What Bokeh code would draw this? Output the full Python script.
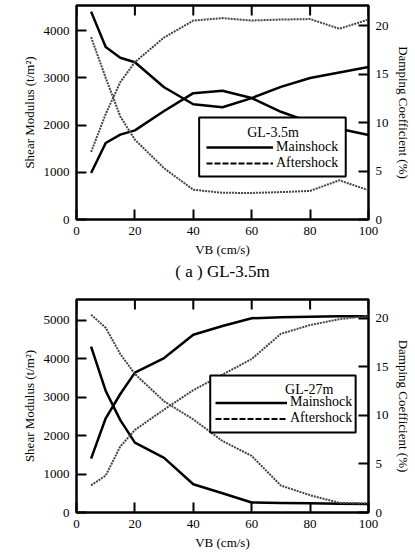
from bokeh.plotting import figure
from bokeh.models import (Range1d, LinearAxis, Legend, LegendItem, Label,
                          FixedTicker, BoxAnnotation)
from bokeh.layouts import column
from bokeh.embed import file_html
from bokeh.resources import INLINE

# ---------------- data ----------------
vb = [5, 10, 15, 20, 30, 40, 50, 60, 70, 80, 90, 100]

# (a) GL-3.5m
g35_main = [4400, 3650, 3425, 3330, 2800, 2440, 2375, 2570, 2280, 2060, 1920, 1790]
h35_main = [4.8, 7.9, 8.76, 9.2, 11.2, 13.05, 13.3, 12.54, 13.7, 14.62, 15.19, 15.75]
g35_after = [3860, 3000, 2180, 1690, 1085, 630, 565, 562, 580, 605, 830, 620]
h35_after = [6.97, 10.89, 14.19, 16.25, 18.8, 20.55, 20.8, 20.55, 20.65, 20.7, 19.7, 20.65]

# GL-27m
g27_main = [4310, 3160, 2400, 1815, 1420, 735, 500, 260, 250, 240, 230, 220]
h27_main = [5.55, 9.7, 12.2, 14.4, 15.9, 18.3, 19.2, 20.0, 20.1, 20.15, 20.2, 20.2]
g27_after = [5140, 4800, 4120, 3600, 2890, 2420, 1860, 1470, 700, 450, 250, 230]
h27_after = [2.8, 3.8, 6.8, 8.5, 10.6, 12.6, 14.2, 15.8, 18.4, 19.3, 19.9, 20.25]

x_ticks = [0, 20, 40, 60, 80, 100]
g35_ticks = [0, 1000, 2000, 3000, 4000]
g27_ticks = [0, 1000, 2000, 3000, 4000, 5000]
h_ticks = [0, 5, 10, 15, 20]

FONT = "Liberation Serif"
TICK_PX = 10


def style_axis(ax, ticks, label):
    ax.ticker = FixedTicker(ticks=ticks)
    ax.axis_line_color = None
    ax.major_tick_in = TICK_PX
    ax.major_tick_out = 0
    ax.minor_tick_in = 0
    ax.minor_tick_out = 0
    ax.major_tick_line_width = 2
    ax.major_tick_line_color = "black"
    ax.major_label_text_font = FONT
    ax.major_label_text_font_size = "13px"
    ax.major_label_text_color = "black"
    ax.major_label_standoff = 7
    ax.axis_label = label
    ax.axis_label_text_font = FONT
    ax.axis_label_text_font_size = "13px"
    ax.axis_label_text_font_style = "normal"
    ax.axis_label_text_color = "black"
    ax.axis_label_standoff = 4


def panel(g_main, h_main, g_after, h_after, gmax, hmax, gticks, leg_title,
          leg_loc, box, title_xy, height, borders, glyph_w, row_h, caption=None):
    bl, br, bt, bb = borders
    frame_h = height - bt - bb
    p = figure(width=415, height=height, output_backend="svg", toolbar_location=None,
               x_range=Range1d(0, 100), y_range=Range1d(0, gmax),
               min_border_left=bl, min_border_right=br,
               min_border_top=bt, min_border_bottom=bb,
               background_fill_color="white", border_fill_color="white")
    p.extra_y_ranges = {"h": Range1d(0, hmax), "offscreen": Range1d(-2 * gmax, -gmax)}
    p.xgrid.visible = False
    p.ygrid.visible = False
    p.outline_line_color = "black"
    p.outline_line_width = 2.5
    p.outline_line_alpha = 1

    style_axis(p.xaxis[0], x_ticks, "VB (cm/s)")
    style_axis(p.yaxis[0], gticks, "Shear Modulus (t/m\u00b2)")
    ax_r = LinearAxis(y_range_name="h")
    style_axis(ax_r, h_ticks, "Damping Coefficient (%)")
    p.add_layout(ax_r, "right")

    # inward ticks along the top edge (no labels), derived from the x tick list
    tick_len = TICK_PX * gmax / frame_h
    p.segment(x0=x_ticks, y0=[gmax] * len(x_ticks), x1=x_ticks,
              y1=[gmax - tick_len] * len(x_ticks), line_width=2, line_color="black")

    r_main = p.line(vb, g_main, line_width=2.5, line_color="black")
    p.line(vb, h_main, y_range_name="h", line_width=2.5, line_color="black")
    p.line(vb, g_after, line_width=2, line_color="#444444", line_dash="2 1")
    p.line(vb, h_after, y_range_name="h", line_width=2, line_color="#444444", line_dash="2 1")
    # legend sample for the aftershock (drawn outside the visible frame)
    r_leg_after = p.line(vb, g_after, y_range_name="offscreen", line_width=2,
                         line_color="black", line_dash="6 2")

    left, right, top, bottom = box
    p.add_layout(BoxAnnotation(left=left, right=right, top=top, bottom=bottom,
                               fill_color="white", fill_alpha=1,
                               line_color="black", line_width=2, line_alpha=1))

    legend = Legend(items=[LegendItem(label="Mainshock", renderers=[r_main]),
                           LegendItem(label="Aftershock", renderers=[r_leg_after])],
                    location=leg_loc,
                    label_text_font=FONT, label_text_font_size="14px",
                    label_text_color="black",
                    label_standoff=3, glyph_width=glyph_w, glyph_height=row_h,
                    label_height=row_h, spacing=0, padding=0, margin=0,
                    border_line_color=None, background_fill_alpha=0)
    p.add_layout(legend)
    p.add_layout(Label(x=title_xy[0], y=title_xy[1], text=leg_title,
                       text_font=FONT, text_font_size="14px",
                       text_align="center", text_baseline="middle",
                       text_color="black"))

    if caption:
        p.title.text = caption
        p.title_location = "below"
        p.title.align = "center"
        p.title.text_font = FONT
        p.title.text_font_size = "17px"
        p.title.text_font_style = "normal"
        p.title.text_color = "black"
        p.title.standoff = 0
    return p


p1 = panel(g35_main, h35_main, g35_after, h35_after, 4530, 22.1, g35_ticks,
           "GL-3.5m", (130, 48), (42.0, 92.2, 2159, 910), (67.3, 1846),
           282, (73, 47, 5, 63), 67, 16, caption="( a ) GL-3.5m")
p2 = panel(g27_main, h27_main, g27_after, h27_after, 5536, 21.93, g27_ticks,
           "GL-27m", (139, 86), (45.8, 95.6, 3560, 2079), (79.7, 3207),
           278, (76, 44, 17, 48), 72, 15)

layout = column(p1, p2, spacing=0)
open("out.html", "w").write(file_html(layout, INLINE))
